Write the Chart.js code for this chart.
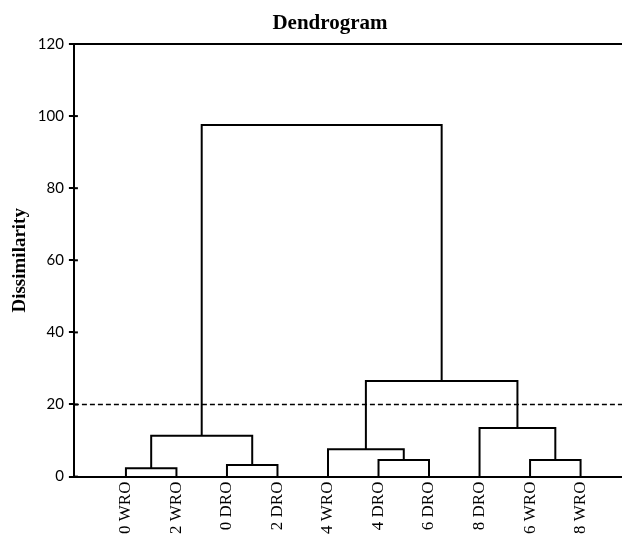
<!DOCTYPE html>
<html>
<head>
<meta charset="utf-8">
<script src="https://cdn.jsdelivr.net/npm/chart.js@4/dist/chart.umd.min.js"></script>
<style>
  body { margin: 0; background: #fff; }
  #wrap { width: 622px; height: 541px; }
</style>
</head>
<body>
<div id="wrap"><canvas id="dendroChart"></canvas></div>
<script>
// leaves in plotted order
const leafLabels = ["0 WRO", "2 WRO", "0 DRO", "2 DRO", "4 WRO", "4 DRO", "6 DRO", "8 DRO", "6 WRO", "8 WRO"];
const leafPositions = [1, 2, 3, 4, 5, 6, 7, 8, 9, 10];

// merges: node ids 0-9 are leaves, 10+ are the clusters made below (in order)
const mergeLeft = [0, 2, 5, 8, 4, 10, 7, 14, 15];
const mergeRight = [1, 3, 6, 9, 12, 11, 13, 16, 17];
const mergeHeights = [2.3, 3.2, 4.6, 4.6, 7.6, 11.3, 13.5, 26.5, 97.5];

const yTicks = [0, 20, 40, 60, 80, 100, 120];
const cutLevel = 20;
const xMin = -0.03;
const xMax = 10.82;

const chartTitle = "Dendrogram";
const titleX = 330;   // title sits a bit left of the plot centre in the original
const titleBaseline = 29;

// x / height of every node
const nodeX = leafPositions.slice();
const nodeY = leafPositions.map(() => 0);

const datasets = [];
mergeHeights.forEach((h, i) => {
    const a = mergeLeft[i], b = mergeRight[i];
    datasets.push({
        data: [
            { x: nodeX[a], y: nodeY[a] },
            { x: nodeX[a], y: h },
            { x: nodeX[b], y: h },
            { x: nodeX[b], y: nodeY[b] }
        ],
        showLine: true,
        borderColor: "#000",
        borderWidth: 2,
        pointRadius: 0,
        tension: 0
    });
    nodeX.push((nodeX[a] + nodeX[b]) / 2);
    nodeY.push(h);
});

// truncation line
datasets.push({
    data: [{ x: xMin, y: cutLevel }, { x: xMax, y: cutLevel }],
    showLine: true,
    borderColor: "#000",
    borderWidth: 1.5,
    borderDash: [5, 3],
    pointRadius: 0
});

// title + y tick marks that cross the axis
const extrasPlugin = {
    id: "extras",
    afterDraw(chart) {
        const c = chart.ctx;
        const area = chart.chartArea;
        const y = chart.scales.y;
        c.save();
        c.strokeStyle = "#000";
        c.lineWidth = 2;
        y.ticks.forEach(t => {
            const py = y.getPixelForValue(t.value);
            c.beginPath();
            c.moveTo(area.left, py);
            c.lineTo(area.left + 4, py);
            c.stroke();
        });
        c.fillStyle = "#000";
        c.font = "bold 21px 'Liberation Serif'";
        c.textAlign = "center";
        c.textBaseline = "alphabetic";
        c.fillText(chartTitle, titleX, titleBaseline);
        c.restore();
    }
};

const ctx = document.getElementById("dendroChart").getContext("2d");
new Chart(ctx, {
    type: "scatter",
    data: { datasets: datasets },
    plugins: [extrasPlugin],
    options: {
        responsive: true,
        maintainAspectRatio: false,
        animation: false,
        layout: { padding: { left: 0, right: 0, top: 44, bottom: 2 } },
        plugins: {
            legend: { display: false },
            tooltip: { enabled: false }
        },
        scales: {
            x: {
                type: "linear",
                min: xMin,
                max: xMax,
                afterBuildTicks: scale => {
                    scale.ticks = leafPositions.map(v => ({ value: v }));
                },
                grid: { display: false, drawTicks: false },
                border: { display: true, color: "#000", width: 2 },
                ticks: {
                    autoSkip: false,
                    minRotation: 90,
                    maxRotation: 90,
                    padding: 5,
                    color: "#000",
                    font: { family: "Liberation Serif", size: 17 },
                    callback: value => {
                        const i = leafPositions.indexOf(value);
                        return i >= 0 ? leafLabels[i] : "";
                    }
                }
            },
            y: {
                min: 0,
                max: 120,
                afterBuildTicks: scale => {
                    scale.ticks = yTicks.map(v => ({ value: v }));
                },
                grid: {
                    drawOnChartArea: true,
                    color: c => (c.tick && c.tick.value === 120 ? "#000" : "rgba(0,0,0,0)"),
                    tickColor: "#000",
                    tickLength: 5,
                    lineWidth: 2
                },
                border: { display: true, color: "#000", width: 2 },
                title: {
                    display: true,
                    text: "Dissimilarity",
                    color: "#000",
                    font: { family: "Liberation Serif", size: 19, weight: "bold" },
                    padding: { top: 9, bottom: 1 }
                },
                ticks: {
                    color: "#000",
                    padding: 5,
                    font: { family: "Lato", size: 15 }
                }
            }
        }
    }
});
</script>
</body>
</html>
